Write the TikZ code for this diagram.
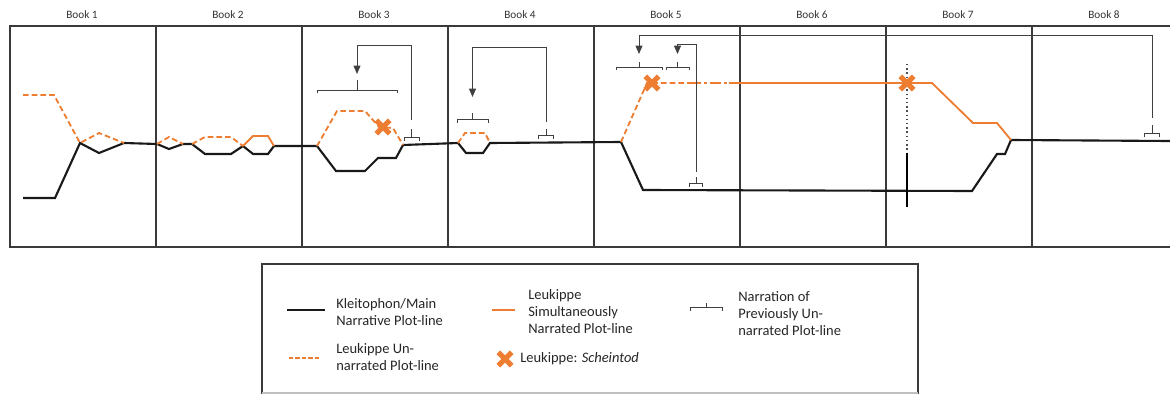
\documentclass[tikz,border=0pt]{standalone}
\usepackage{fontspec}
\setmainfont{Carlito}
\usetikzlibrary{arrows.meta,calc,shapes.misc}
\definecolor{lkorange}{HTML}{ED7D31}
\definecolor{framegray}{HTML}{3A3A3A}
\newcommand{\narrbrace}[5]{% name, x, top y, half width, tick
  \draw[brace] (#2-#4,#3+3.5) -- (#2-#4,#3) -- (#2+#4,#3) -- (#2+#4,#3+3.5);
  \draw[brace] (#2,#3) -- (#2,#3-#5) coordinate (#1);}
\tikzset{
  frameline/.style={draw=framegray, line width=1.4pt},
  bookline/.style={draw=framegray, line width=1.1pt},
  booklabel/.style={font=\fontsize{8}{9.5}\selectfont, text=black!80},
  mainplot/.style={draw=black!90, line width=1.5pt},
  unnarr/.style={draw=lkorange, line width=1.3pt, dash pattern=on 4pt off 2.2pt},
  simnarr/.style={draw=lkorange, line width=1.3pt},
  brace/.style={draw=black!75, line width=0.7pt},
  narrarr/.style={draw=black!75, line width=0.7pt, -{Triangle[length=6pt,width=5pt]}},
  deathmark/.style={cross out, draw=lkorange, line width=3.6pt, minimum size=0.21cm, inner sep=0pt},
  legtext/.style={anchor=west, align=left, inner sep=0pt,
                  font=\fontsize{10.3}{12.1}\selectfont, text=black!85}}

\begin{document}
\begin{tikzpicture}[x=0.025cm, y=-0.025cm]
  \useasboundingbox (0,0) rectangle (1170,394);
  % books
  \draw[frameline] (1170,26) -- (10,26) -- (10,247) -- (1170,247);
  \foreach \b in {1,...,7}
    \draw[bookline] ({10+146*\b},26) -- ({10+146*\b},247);
  \foreach \b in {1,...,8}
    \node[booklabel] (book\b) at ({10+146*(\b-1)+72},15) {Book \b};

  % main plot-line
  \draw[mainplot] (23,198) -- (55,198) -- (80,143) -- (99,153) -- (124,143) -- (157,144)
    -- (169,149) -- (183,144) -- (192,144) -- (205,154) -- (231,154) -- (243,146)
    -- (253,154) -- (268,154) -- (274,146) -- (317,146) -- (336,171) -- (365,171)
    -- (378,158) -- (396,158) -- (403,145) -- (458,143) -- (466,153) -- (483,153)
    -- (490,143) -- (621,142) -- (643,190) -- (972,191) -- (997,154) -- (1005,154)
    -- (1011,140) -- (1170,141);

  % Leukippe
  \draw[unnarr] (23,95) -- (54,95) -- (80,143) -- (99,133) -- (124,143);
  \draw[unnarr] (157,144) -- (169,137) -- (183,144);
  \draw[unnarr] (192,144) -- (205,137) -- (231,137) -- (243,146);
  \draw[simnarr] (243,146) -- (253,136) -- (268,136) -- (274,146);
  \draw[unnarr] (317,146) -- (337,111) -- (365,111) -- (379,127) -- (393,128) -- (403,145);
  \draw[unnarr] (458,143) -- (465,133) -- (485,133) -- (490,143);
  \draw[unnarr] (621,142) -- (647,83) -- (690,83);
  \draw[draw=lkorange, line width=1.3pt, dash pattern=on 8pt off 2pt on 2pt off 2pt] (690,83) -- (740,83);
  \draw[simnarr] (740,83) -- (932,83) -- (973,123) -- (997,123) -- (1011,140);

  % book 7 marker
  \draw[black!70, line width=1pt, dotted] (907,64) -- (907,153);
  \draw[black, line width=1.5pt] (907,153) -- (907,207);

  \node[deathmark] (x3) at (383,127) {};
  \node[deathmark] (x5) at (652,83) {};
  \node[deathmark] (x7) at (907,83) {};

  % narration brackets
  \narrbrace{l3}{357}{90}{40}{10}
  \narrbrace{s3}{411.5}{137}{7.5}{8}
  \narrbrace{l4}{472.5}{119}{15.5}{6}
  \narrbrace{s4}{546}{135}{7.5}{6}
  \narrbrace{l5a}{639}{67}{23}{5}
  \narrbrace{l5b}{677.5}{67}{11.5}{5}
  \narrbrace{s5}{696}{183}{6.5}{6}
  \narrbrace{s8}{1152}{133}{7.5}{8}
  \coordinate (r3) at (0,45);
  \coordinate (r4) at (0,47);
  \coordinate (r5a) at (0,35);
  \coordinate (r5b) at (0,44);
  \draw[narrarr] ($(s3)+(0,-9)$) |- (l3 |- r3) -- ($(l3)+(0,-6)$);
  \draw[narrarr] ($(s4)+(0,-7)$) |- (l4 |- r4) -- ($(l4)+(0,-16)$);
  \draw[narrarr] ($(s8)+(0,-7)$) |- (l5a |- r5a) -- ($(l5a)+(0,-8)$);
  \draw[narrarr] ($(s5)+(0,-5)$) |- (l5b |- r5b) -- ($(l5b)+(0,-8)$);

  % legend
  \draw[frameline] (262,395) |- (918,264) -- (918,395);
  \draw[black!25, line width=0.8pt] (262,393) -- (918,393);
  \draw[mainplot] (287,310) -- (325,310);
  \node[legtext] (lgmain) at (336,312) {Kleitophon/Main\\Narrative Plot-line};
  \draw[draw=lkorange, line width=1.3pt, dash pattern=on 3pt off 1.6pt] (289,358) -- (321,358);
  \node[legtext] (lgunnarr) at (336,357.5) {Leukippe Un-\\narrated Plot-line};
  \draw[simnarr] (492,310) -- (515,310);
  \node[legtext] (lgsim) at (528,312) {Leukippe\\Simultaneously\\Narrated Plot-line};
  \node[deathmark] (lgx) at (505,359) {};
  \node[legtext] (lgdeath) at (520,359) {Leukippe: \textit{Scheintod}};
  \narrbrace{lgb}{706}{307}{16}{4}
  \node[legtext] (lgnarr) at (738,314) {Narration of\\Previously Un-\\narrated Plot-line};
\end{tikzpicture}
\end{document}
